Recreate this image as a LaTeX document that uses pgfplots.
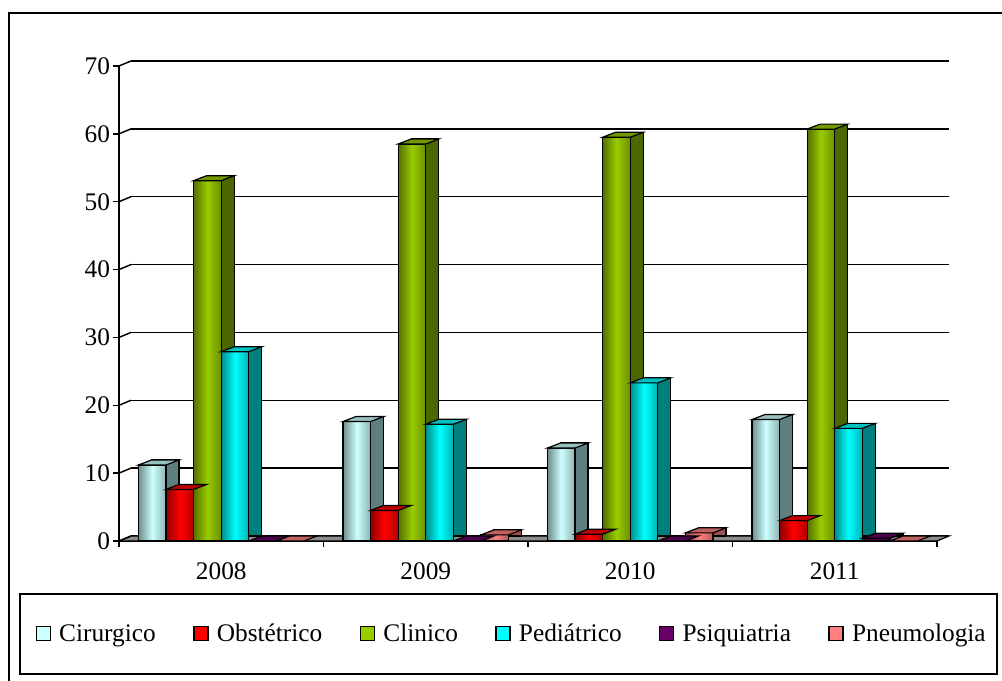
\documentclass[border=0pt]{standalone}
\usepackage{fontspec}
\setmainfont{Liberation Serif}
\usepackage{pgfplots}
\usepackage{pgfplotstable}
\pgfplotsset{compat=1.18}

\definecolor{cir}{HTML}{CCFFFF}
\definecolor{cirS}{HTML}{5F7F7F}
\definecolor{cirT}{HTML}{99BFBF}
\definecolor{obs}{HTML}{FF0000}
\definecolor{obsS}{HTML}{800000}
\definecolor{obsT}{HTML}{C00000}
\definecolor{cli}{HTML}{99CC00}
\definecolor{cliS}{HTML}{4C6600}
\definecolor{cliT}{HTML}{739900}
\definecolor{ped}{HTML}{00FFFF}
\definecolor{pedS}{HTML}{007F7F}
\definecolor{pedT}{HTML}{00BFBF}
\definecolor{psi}{HTML}{660066}
\definecolor{psiS}{HTML}{330033}
\definecolor{psiT}{HTML}{4D004D}
\definecolor{pne}{HTML}{FF8080}
\definecolor{pneS}{HTML}{A05050}
\definecolor{pneT}{HTML}{C06060}
\definecolor{floorc}{HTML}{8C8C8C}

\pgfplotstableread{
x cir obs cli ped psi pne
0 11.2 7.6 53.1 27.9 0 0
1 17.6 4.5 58.5 17.2 0 0.9
2 13.7 1.0 59.5 23.3 0 1.2
3 17.9 3.0 60.7 16.6 0.4 0
}\datatable

% top face of a 3D bar, drawn at the data point; #2 = bar shift
\newcommand\deftop[2]{%
  \pgfdeclareplotmark{#1}{%
    \pgfpathmoveto{\pgfpoint{#2-10.35pt}{0pt}}%
    \pgfpathlineto{\pgfpoint{#2+10.35pt}{0pt}}%
    \pgfpathlineto{\pgfpoint{#2+20.1pt}{3.75pt}}%
    \pgfpathlineto{\pgfpoint{#2-0.6pt}{3.75pt}}%
    \pgfpathclose
    \pgfusepathqfillstroke}}
\deftop{topA}{-51.75pt}
\deftop{topB}{-31.05pt}
\deftop{topC}{-10.35pt}
\deftop{topD}{10.35pt}
\deftop{topE}{31.05pt}
\deftop{topF}{51.75pt}

\pgfplotsset{
  sidebar/.style 2 args={ybar, bar width=20.7pt, bar shift=#1, fill=#2, draw=black, line width=0.9pt, xshift=9.75pt, yshift=3.75pt, forget plot},
  topbar/.style 2 args={only marks, mark=#1, mark options={fill=#2, draw=black, line width=0.9pt}, forget plot},
  frontbar/.style 2 args={ybar, bar width=20.7pt, bar shift=#1, draw=black, line width=0.9pt, left color=#2!55!black, right color=#2!70!black, middle color=#2, forget plot},
}

\begin{document}
\begin{tikzpicture}
\useasboundingbox (0,0) rectangle (751.5pt,510.75pt);
\draw[line width=1.1pt] (6.75pt,0pt) -- (6.75pt,501pt) -- (751.5pt,501pt);
\draw[line width=1.1pt] (15pt,5.25pt) rectangle (747.75pt,65.25pt);
\begin{axis}[
  at={(89.25pt,105pt)}, anchor=south west,
  scale only axis, width=613.5pt, height=356.25pt,
  xmin=-0.5, xmax=3.5, ymin=0, ymax=70,
  clip=false,
  axis x line*=bottom, axis y line*=left,
  axis line style={-, line width=1.1pt, black},
  ytick={0,10,...,70},
  xtick={0,1,2,3}, xticklabels={2008,2009,2010,2011},
  minor xtick={-0.5,0.5,1.5,2.5,3.5},
  tick align=outside,
  major tick length=4.5pt, minor tick length=4.5pt,
  tick style={line width=1.1pt, black},
  xtick style={draw=none},
  minor x tick style={draw=black, line width=1.1pt},
  ymajorgrids,
  major grid style={line width=1.1pt, black, xshift=9pt, yshift=3.75pt},
  tick label style={font=\fontsize{19}{21}\selectfont},
  /pgf/number format/assume math mode=true,
  yticklabel style={inner sep=2pt},
  xticklabel style={yshift=-8pt},
  legend style={at={(0.4804,-0.1958)}, anchor=center, draw=none, fill=none,
     font=\fontsize{19}{21}\selectfont, legend columns=6,
     /tikz/every even column/.append style={column sep=26pt}},
  legend image code/.code={\draw[#1, line width=1.1pt] (0pt,-5pt) rectangle (10.5pt,5.5pt); \path (15pt,0pt);},
]
\filldraw[fill=floorc, draw=black, line width=0.9pt] (axis cs:-0.5,0) -- (axis cs:3.5,0) -- ([shift={(9pt,3.75pt)}]axis cs:3.5,0) -- ([shift={(9pt,3.75pt)}]axis cs:-0.5,0) -- cycle;
\draw[line width=1.1pt] (axis cs:-0.5,0) -- ++(9pt,3.75pt);
\draw[line width=1.1pt] (axis cs:-0.5,10) -- ++(9pt,3.75pt);
\draw[line width=1.1pt] (axis cs:-0.5,20) -- ++(9pt,3.75pt);
\draw[line width=1.1pt] (axis cs:-0.5,30) -- ++(9pt,3.75pt);
\draw[line width=1.1pt] (axis cs:-0.5,40) -- ++(9pt,3.75pt);
\draw[line width=1.1pt] (axis cs:-0.5,50) -- ++(9pt,3.75pt);
\draw[line width=1.1pt] (axis cs:-0.5,60) -- ++(9pt,3.75pt);
\draw[line width=1.1pt] (axis cs:-0.5,70) -- ++(9pt,3.75pt);

% side (back) faces
\addplot[sidebar={-51.75pt}{cirS}] table[x=x,y=cir]{\datatable};
\addplot[sidebar={-31.05pt}{obsS}] table[x=x,y=obs]{\datatable};
\addplot[sidebar={-10.35pt}{cliS}] table[x=x,y=cli]{\datatable};
\addplot[sidebar={10.35pt}{pedS}] table[x=x,y=ped]{\datatable};
\addplot[sidebar={31.05pt}{psiS}] table[x=x,y=psi]{\datatable};
\addplot[sidebar={51.75pt}{pneS}] table[x=x,y=pne]{\datatable};

% top faces
\addplot[topbar={topA}{cirT}] table[x=x,y=cir]{\datatable};
\addplot[topbar={topB}{obsT}] table[x=x,y=obs]{\datatable};
\addplot[topbar={topC}{cliT}] table[x=x,y=cli]{\datatable};
\addplot[topbar={topD}{pedT}] table[x=x,y=ped]{\datatable};
\addplot[topbar={topE}{psiT}] table[x=x,y=psi]{\datatable};
\addplot[topbar={topF}{pneT}] table[x=x,y=pne]{\datatable};

% front faces, one bar per plot so each has its own gradient
\pgfplotsinvokeforeach{0,1,2,3}{
\addplot[frontbar={-51.75pt}{cir}, x filter/.expression={abs(x-#1)<0.1 ? x : nan}] table[x=x,y=cir]{\datatable};
\addplot[frontbar={-31.05pt}{obs}, x filter/.expression={abs(x-#1)<0.1 ? x : nan}] table[x=x,y=obs]{\datatable};
\addplot[frontbar={-10.35pt}{cli}, x filter/.expression={abs(x-#1)<0.1 ? x : nan}] table[x=x,y=cli]{\datatable};
\addplot[frontbar={10.35pt}{ped}, x filter/.expression={abs(x-#1)<0.1 ? x : nan}] table[x=x,y=ped]{\datatable};
\addplot[frontbar={31.05pt}{psi}, x filter/.expression={abs(x-#1)<0.1 ? x : nan}] table[x=x,y=psi]{\datatable};
\addplot[frontbar={51.75pt}{pne}, x filter/.expression={abs(x-#1)<0.1 ? x : nan}] table[x=x,y=pne]{\datatable};
}

\addlegendimage{fill=cir, draw=black}
\addlegendimage{fill=obs, draw=black}
\addlegendimage{fill=cli, draw=black}
\addlegendimage{fill=ped, draw=black}
\addlegendimage{fill=psi, draw=black}
\addlegendimage{fill=pne, draw=black}
\legend{Cirurgico, Obstétrico, Clinico, Pediátrico, Psiquiatria, Pneumologia}
\end{axis}
\end{tikzpicture}
\end{document}
